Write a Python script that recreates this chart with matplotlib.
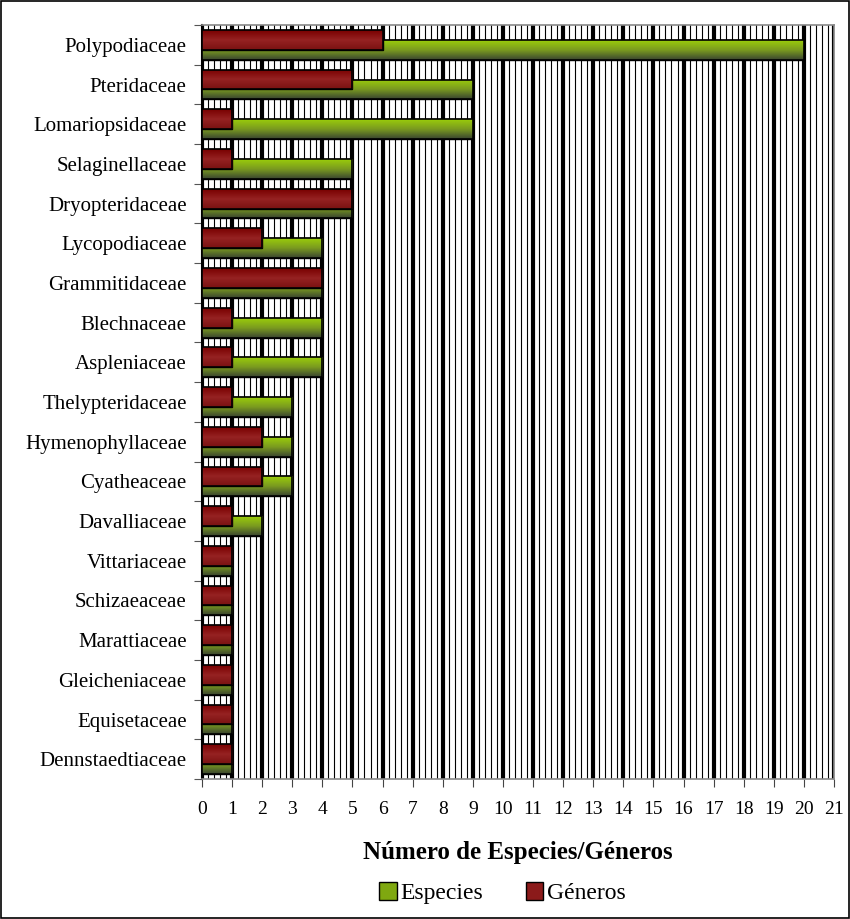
import numpy as np
import matplotlib
matplotlib.use('Agg')
import matplotlib.pyplot as plt
from matplotlib.colors import LinearSegmentedColormap
from matplotlib.patches import Rectangle, Patch
from matplotlib.ticker import MultipleLocator

# Data (top to bottom as shown in the chart)
familias = ['Polypodiaceae', 'Pteridaceae', 'Lomariopsidaceae', 'Selaginellaceae',
            'Dryopteridaceae', 'Lycopodiaceae', 'Grammitidaceae', 'Blechnaceae',
            'Aspleniaceae', 'Thelypteridaceae', 'Hymenophyllaceae', 'Cyatheaceae',
            'Davalliaceae', 'Vittariaceae', 'Schizaeaceae', 'Marattiaceae',
            'Gleicheniaceae', 'Equisetaceae', 'Dennstaedtiaceae']
especies = [20, 9, 9, 5, 5, 4, 4, 4, 4, 3, 3, 3, 2, 1, 1, 1, 1, 1, 1]
generos = [6, 5, 1, 1, 5, 2, 4, 1, 1, 1, 2, 2, 1, 1, 1, 1, 1, 1, 1]
x_ticks = list(range(0, 22))

plt.rcParams['font.family'] = ['Liberation Serif', 'DejaVu Serif']

fig = plt.figure(figsize=(8.5, 9.19), dpi=100)
ax = fig.add_axes([0.2376, 0.1523, 0.7436, 0.8205])

n = len(familias)
y = np.arange(n)[::-1]  # top category at highest y
h = 0.5
off = 0.125

# gradient colormaps (top -> bottom)
cm_green = LinearSegmentedColormap.from_list('g', ['#9acd0a', '#7a9a20', '#3a4530'])
cm_red = LinearSegmentedColormap.from_list('r', ['#780000', '#962222', '#7a1212'])
grad = np.linspace(0, 1, 64).reshape(-1, 1)

bars_e = ax.barh(y - off, especies, height=h, color='#6b8a20', edgecolor='black',
                 linewidth=1.0, zorder=3, label='Especies')
bars_g = ax.barh(y + off, generos, height=h, color='#8b1a1a', edgecolor='black',
                 linewidth=1.0, zorder=5, label='Géneros')

# fill bars with a vertical gradient, clipped to each bar
for bars, cmap, z in [(bars_e, cm_green, 3.5), (bars_g, cm_red, 5.5)]:
    for b in bars:
        x0, y0 = b.get_x(), b.get_y()
        w, hh = b.get_width(), b.get_height()
        im = ax.imshow(grad, cmap=cmap, aspect='auto', origin='lower',
                       extent=[x0, x0 + w, y0 + hh, y0], zorder=z,
                       interpolation='bilinear')
        im.set_clip_path(b)
        ax.add_patch(Rectangle((x0, y0), w, hh, fill=False, edgecolor='black',
                               linewidth=1.2, zorder=z + 0.1))

ax.set_xlim(0, 21)
ax.set_ylim(-0.5, n - 0.5)

# vertical striped background
ax.xaxis.set_minor_locator(MultipleLocator(0.2))
ax.grid(axis='x', which='minor', color='black', linewidth=0.8, zorder=0)
ax.grid(axis='x', which='major', color='black', linewidth=3.0, zorder=1)
ax.set_axisbelow(True)

ax.set_xticks(x_ticks)
ax.set_xticklabels([str(v) for v in x_ticks], fontsize=14)
ax.tick_params(axis='x', which='major', direction='out', length=6, color='#444444', pad=10)
ax.tick_params(axis='x', which='minor', length=0)

# y ticks at category boundaries, labels centered
ax.set_yticks(np.arange(-0.5, n, 1.0))
ax.set_yticklabels([])
ax.set_yticks(y, minor=True)
ax.set_yticklabels(familias, minor=True, fontsize=15)
ax.tick_params(axis='y', which='major', direction='out', length=6, color='#555555')
ax.tick_params(axis='y', which='minor', length=0, pad=11)

for s in ['top', 'right', 'bottom']:
    ax.spines[s].set_color('#888888')
    ax.spines[s].set_linewidth(1.2)
ax.spines['left'].set_color('black')
ax.spines['left'].set_linewidth(1.5)

ax.set_xlabel('Número de Especies/Géneros', fontsize=18, fontweight='bold')
ax.xaxis.set_label_coords(0.5, -0.082)

handles = [Patch(facecolor='#7fa810', edgecolor='black', linewidth=1.0),
           Patch(facecolor='#8b1a1a', edgecolor='black', linewidth=1.0)]
fig.legend(handles, ['Especies', 'Géneros'], loc='center', bbox_to_anchor=(0.591, 0.028),
           ncol=2, frameon=False, prop={'family': 'Liberation Serif', 'size': 17},
           handlelength=0.75, handleheight=0.75, handletextpad=0.15, columnspacing=1.8)

# figure border
fig.patches.append(Rectangle((0.001, 0.001), 0.998, 0.998, transform=fig.transFigure,
                             fill=False, edgecolor='black', linewidth=1.2))

plt.savefig('out.png', dpi=100)
